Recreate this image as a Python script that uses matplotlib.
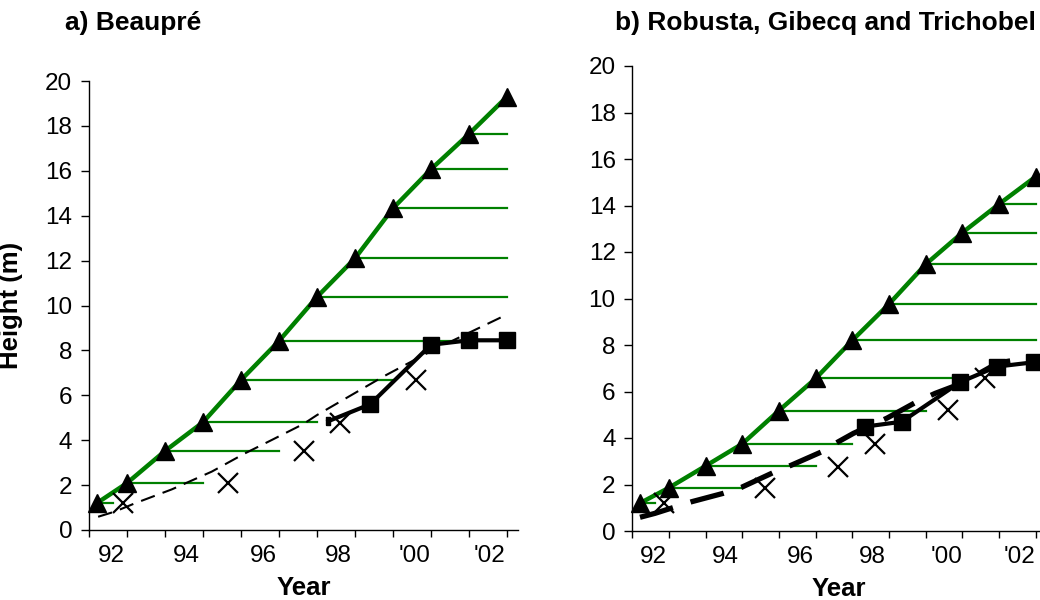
import numpy as np
import matplotlib.pyplot as plt

plt.rcParams['font.family'] = ['Liberation Sans', 'DejaVu Sans']

# ---- a) Beaupre ----
tri_x_a = [1992.2, 1993, 1994, 1995, 1996, 1997, 1998, 1999, 2000, 2001, 2002, 2003]
tri_y_a = [1.19, 2.09, 3.52, 4.8, 6.68, 8.42, 10.38, 12.1, 14.33, 16.07, 17.64, 19.3]
# right end of the horizontal lag line drawn from each triangle (last one has none)
lag_end_a = [1992.64, 1995.0, 1997.0, 1998.0, 2000.0, 2002.0, 2003, 2003, 2003, 2003, 2003]

sq_x_a = [1998.3, 1999.4, 2001.0, 2002.0, 2003.0]
sq_y_a = [4.85, 5.6, 8.25, 8.45, 8.45]

cross_x_a = [1992.9, 1995.65, 1997.65, 1998.6, 2000.6]
cross_y_a = [1.19, 2.08, 3.5, 4.78, 6.68]

dash_x_a = [1992.24, 1992.68, 1993.21, 1994.18, 1995.23, 1996.1, 1996.81, 1997.64, 1998.0, 1999.74, 2001.06, 2003.0]
dash_y_a = [0.59, 0.82, 1.19, 1.81, 2.6, 3.41, 4.01, 4.72, 5.12, 6.83, 8.02, 9.6]

# ---- b) Robusta, Gibecq and Trichobel ----
tri_x_b = [1992.2, 1993, 1994, 1995, 1996, 1997, 1998, 1999, 2000, 2001, 2002, 2003]
tri_y_b = [1.19, 1.86, 2.8, 3.75, 5.18, 6.56, 8.2, 9.76, 11.47, 12.83, 14.06, 15.24]
lag_end_b = [1992.62, 1995.0, 1997.0, 1998.0, 2000.0, 2001.0, 2003, 2003, 2003, 2003, 2003]

sq_x_b = [1998.35, 1999.35, 2000.94, 2001.94, 2002.96]
sq_y_b = [4.49, 4.7, 6.4, 7.07, 7.26]

cross_x_b = [1992.87, 1995.62, 1997.62, 1998.62, 2000.62, 2001.62]
cross_y_b = [1.19, 1.86, 2.77, 3.73, 5.2, 6.6]

dash_x_b = [1992.21, 1992.62, 1993.62, 1994.48, 1994.98, 1995.84, 1996.35, 1997.17, 1997.62,
            1998.03, 1998.94, 1999.76, 2000.26, 2000.98, 2001.97, 2002.44, 2003.0]
dash_y_b = [0.59, 0.76, 1.26, 1.62, 1.88, 2.51, 2.84, 3.41, 3.84,
            4.2, 4.85, 5.56, 5.92, 6.35, 7.23, 7.35, 7.45]

year_ticks = list(range(1992, 2004))
label_pos = [1992.58, 1994.55, 1996.58, 1998.55, 2000.58, 2002.55]
label_txt = ['92', '94', '96', '98', "'00", "'02"]

green = '#008000'
tick_fs = 17.5


def draw_panel(ax, tri_x, tri_y, lag_end, sq_x, sq_y, cross_x, cross_y,
               dash_x, dash_y, thick_dash, half_first=False):
    # horizontal lag lines
    for x0, y0, x1 in zip(tri_x[:-1], tri_y[:-1], lag_end):
        ax.plot([x0, x1], [y0, y0], color=green, lw=1.6, zorder=2, clip_on=False)
    # dashed curve
    if thick_dash:
        ln, = ax.plot(dash_x, dash_y, color='black', lw=3.8, zorder=3,
                      solid_capstyle='butt', clip_on=False)
        ln.set_dashes((6.5, 3.5))
    else:
        ln, = ax.plot(dash_x, dash_y, color='black', lw=1.5, zorder=3, clip_on=False)
        ln.set_dashes((7, 4))
    # green line with triangles
    ax.plot(tri_x, tri_y, color=green, lw=3.2, zorder=4, clip_on=False)
    ax.plot(tri_x, tri_y, ls='none', marker='^', ms=13, color='black',
            zorder=6, clip_on=False)
    # crosses
    ax.plot(cross_x, cross_y, ls='none', marker='x', ms=14, mew=1.6,
            color='black', zorder=5, clip_on=False)
    # black line with squares
    ax.plot(sq_x, sq_y, color='black', lw=3, zorder=4, clip_on=False)
    if half_first:
        half = [(-0.5, -1), (0.5, -1), (0.5, 1), (-0.5, 1), (-0.5, -1)]
        ax.plot(sq_x[:1], sq_y[:1], ls='none', marker=half, ms=6,
                color='black', zorder=6, clip_on=False)
        ax.plot(sq_x[1:], sq_y[1:], ls='none', marker='s', ms=11,
                color='black', zorder=6, clip_on=False)
    else:
        ax.plot(sq_x, sq_y, ls='none', marker='s', ms=11, color='black',
                zorder=6, clip_on=False)

    ax.set_xlim(1992, 2003.29)
    ax.set_ylim(0, 20)
    ax.set_yticks(range(0, 21, 2))
    ax.set_xticks(year_ticks)
    ax.set_xticklabels([])
    ax.set_xticks(label_pos, minor=True)
    ax.set_xticklabels(label_txt, minor=True)
    ax.tick_params(axis='x', which='major', direction='out', length=5, width=1)
    ax.tick_params(axis='x', which='minor', length=0, pad=11, labelsize=tick_fs)
    ax.tick_params(axis='y', direction='out', length=6, width=1, pad=6,
                   labelsize=tick_fs)
    for s in ['top', 'right']:
        ax.spines[s].set_visible(False)
    for s in ['left', 'bottom']:
        ax.spines[s].set_linewidth(1.0)
    ax.set_xlabel('Year', fontsize=18.5, fontweight='bold', labelpad=6)


fig = plt.figure(figsize=(10.4, 6), dpi=100)
ax1 = fig.add_axes([89 / 1040, 70 / 600, 429 / 1040, 449 / 600])
ax2 = fig.add_axes([632.3 / 1040, 69 / 600, 414 / 1040, 465 / 600])

draw_panel(ax1, tri_x_a, tri_y_a, lag_end_a, sq_x_a, sq_y_a, cross_x_a, cross_y_a,
           dash_x_a, dash_y_a, thick_dash=False, half_first=True)
draw_panel(ax2, tri_x_b, tri_y_b, lag_end_b, sq_x_b, sq_y_b, cross_x_b, cross_y_b,
           dash_x_b, dash_y_b, thick_dash=True)

ax1.set_ylabel('Height (m)', fontsize=18.5, fontweight='bold')
ax1.yaxis.set_label_coords(-0.155, 0.5)

fig.text(65 / 1040, 1 - 23 / 600, 'a) Beaupré', fontsize=19, fontweight='bold',
         ha='left', va='center')
fig.text(615 / 1040, 1 - 23 / 600, 'b) Robusta, Gibecq and Trichobel', fontsize=19,
         fontweight='bold', ha='left', va='center')

fig.savefig('out.png', dpi=100)
